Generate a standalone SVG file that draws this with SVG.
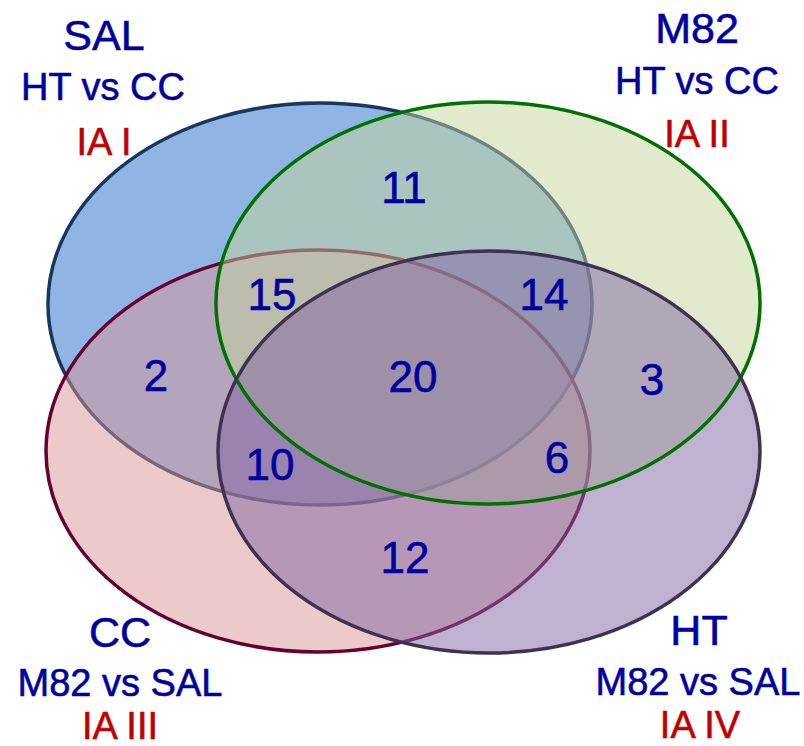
<svg xmlns="http://www.w3.org/2000/svg" width="804" height="746" viewBox="0 0 804 746">
  <style>
    .set { stroke-width: 3.5; }
    .rim { fill: none; stroke-width: 3.5; }
    text { font-family: "Liberation Sans", Arial, sans-serif; text-anchor: middle; stroke-width: 0.6; }
    .title { font-size: 43px; fill: #0000A0; stroke: #0000A0; }
    .cmp { font-size: 38px; fill: #0000A0; stroke: #0000A0; }
    .ia { font-size: 38px; fill: #C00000; stroke: #C00000; }
    .count { font-size: 44px; fill: #0000A0; stroke: #0000A0; }
  </style>
  <rect width="804" height="746" fill="#FFFFFF"/>

  <!-- SAL: HT vs CC -->
  <g id="sal">
    <ellipse class="set" cx="320" cy="304" rx="272" ry="201" fill="#558ED5" fill-opacity="0.65" stroke="#17375E"/>
  </g>
  <!-- CC: M82 vs SAL -->
  <g id="cc">
    <ellipse class="set" cx="318" cy="451" rx="272" ry="201" fill="#D99694" fill-opacity="0.5" stroke="#660033"/>
  </g>
  <!-- M82: HT vs CC -->
  <g id="m82">
    <ellipse cx="488" cy="303" rx="272" ry="201" fill="#C3D69B" fill-opacity="0.5"/>
  </g>
  <!-- HT: M82 vs SAL -->
  <g id="ht">
    <ellipse cx="489" cy="452" rx="271" ry="201" fill="#8064A2" fill-opacity="0.5"/>
  </g>

  <!-- outlines of the two upper-layer sets -->
  <g id="outlines">
    <ellipse class="rim" cx="488" cy="303" rx="272" ry="201" stroke="#007000"/>
    <ellipse class="rim" cx="489" cy="452" rx="271" ry="201" stroke="#3F3151"/>
  </g>

  <g id="sal-label">
    <text class="title" x="104" y="50">SAL</text>
    <text class="cmp" x="103" y="100">HT vs CC</text>
    <text class="ia" x="104" y="155">IA I</text>
  </g>
  <g id="m82-label">
    <text class="title" x="697" y="43">M82</text>
    <text class="cmp" x="697" y="94">HT vs CC</text>
    <text class="ia" x="697" y="147">IA II</text>
  </g>
  <g id="cc-label">
    <text class="title" x="120" y="647">CC</text>
    <text class="cmp" x="120" y="696">M82 vs SAL</text>
    <text class="ia" x="120" y="739">IA III</text>
  </g>
  <g id="ht-label">
    <text class="title" x="699" y="645">HT</text>
    <text class="cmp" x="698" y="695">M82 vs SAL</text>
    <text class="ia" x="700" y="738">IA IV</text>
  </g>

  <!-- region counts -->
  <g id="counts">
    <text class="count" x="404" y="203">11</text>
    <text class="count" x="272" y="310">15</text>
    <text class="count" x="544" y="310">14</text>
    <text class="count" x="156" y="391">2</text>
    <text class="count" x="413" y="392">20</text>
    <text class="count" x="652" y="395">3</text>
    <text class="count" x="270" y="480">10</text>
    <text class="count" x="557" y="473">6</text>
    <text class="count" x="405" y="573">12</text>
  </g>
</svg>
